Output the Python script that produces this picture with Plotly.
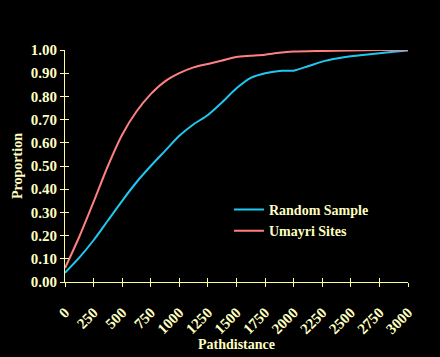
import plotly.graph_objects as go

# Data
distance_random = [0, 125, 250, 375, 500, 625, 750, 875, 1000, 1125, 1250, 1375, 1500,
                   1625, 1750, 1875, 2000, 2125, 2250, 2375, 2500, 2625, 2750, 2875, 3000]
prop_random = [0.04, 0.105, 0.18, 0.265, 0.35, 0.43, 0.50, 0.565, 0.63, 0.68, 0.72, 0.775, 0.835,
               0.88, 0.90, 0.91, 0.911, 0.93, 0.95, 0.963, 0.973, 0.98, 0.986, 0.992, 0.998]

distance_umayri = [0, 125, 250, 375, 500, 625, 750, 875, 1000, 1125, 1250, 1375, 1500,
                   1625, 1750, 1875, 2000, 2250, 2500, 2750, 3000]
prop_umayri = [0.06, 0.195, 0.345, 0.50, 0.635, 0.735, 0.81, 0.865, 0.90, 0.925, 0.94, 0.955, 0.97,
               0.975, 0.98, 0.988, 0.993, 0.996, 0.998, 1.0, 1.0]

x_ticks = [0, 250, 500, 750, 1000, 1250, 1500, 1750, 2000, 2250, 2500, 2750, 3000]
y_ticks = [0.0, 0.1, 0.2, 0.3, 0.4, 0.5, 0.6, 0.7, 0.8, 0.9, 1.0]

TEXT = "#FFFFC0"
AXIS = "#FFFF99"
FONT = "Liberation Serif"

fig = go.Figure()
fig.add_trace(go.Scatter(x=distance_random, y=prop_random, mode="lines", name="<b>Random Sample</b>",
                         line=dict(color="#1EC8F0", width=2, shape="spline", smoothing=0.7)))
fig.add_trace(go.Scatter(x=distance_umayri, y=prop_umayri, mode="lines", name="<b>Umayri Sites</b>",
                         line=dict(color="#FF8080", width=2, shape="spline", smoothing=0.7)))
# invisible trace on overlay axes (for crossing ticks)
fig.add_trace(go.Scatter(x=[0], y=[0], xaxis="x2", yaxis="y2", mode="markers",
                         marker=dict(opacity=0), showlegend=False, hoverinfo="skip"))

axis_common = dict(showgrid=False, zeroline=False, showline=True, linecolor=AXIS, linewidth=1,
                   tickcolor=AXIS, tickwidth=1, ticklen=4, automargin=False,
                   tickfont=dict(family=FONT, size=15, color=TEXT, weight="bold"))

fig.update_layout(
    width=440, height=357,
    margin=dict(l=65, r=32, t=50, b=75, autoexpand=False),
    paper_bgcolor="black", plot_bgcolor="black",
    font=dict(family=FONT, color=TEXT, size=14),
    xaxis=dict(range=[0, 3000], tickvals=x_ticks, ticktext=[str(v) for v in x_ticks],
               tickangle=-45, ticks="outside", ticklabelstandoff=11,
               title=dict(text="<b>Pathdistance</b>", font=dict(family=FONT, size=14, color=TEXT), standoff=2),
               **axis_common),
    yaxis=dict(range=[0, 1.0], tickvals=y_ticks, ticktext=[f"{v:.2f}" for v in y_ticks],
               ticks="outside",
               title=dict(text="<b>Proportion</b>", font=dict(family=FONT, size=14, color=TEXT), standoff=4),
               **axis_common),
    xaxis2=dict(range=[0, 3000], overlaying="x", tickvals=x_ticks, ticks="inside", ticklen=4,
                tickcolor=AXIS, showticklabels=False, showgrid=False, zeroline=False, showline=False),
    yaxis2=dict(range=[0, 1.0], overlaying="y", tickvals=y_ticks, ticks="inside", ticklen=4,
                tickcolor=AXIS, showticklabels=False, showgrid=False, zeroline=False, showline=False),
    legend=dict(x=0.478, y=0.38, xanchor="left", yanchor="top", bgcolor="rgba(0,0,0,0)",
                font=dict(family=FONT, size=14, color=TEXT), itemwidth=30, tracegroupgap=0),
    showlegend=True,
)

fig.write_html("out.html")
